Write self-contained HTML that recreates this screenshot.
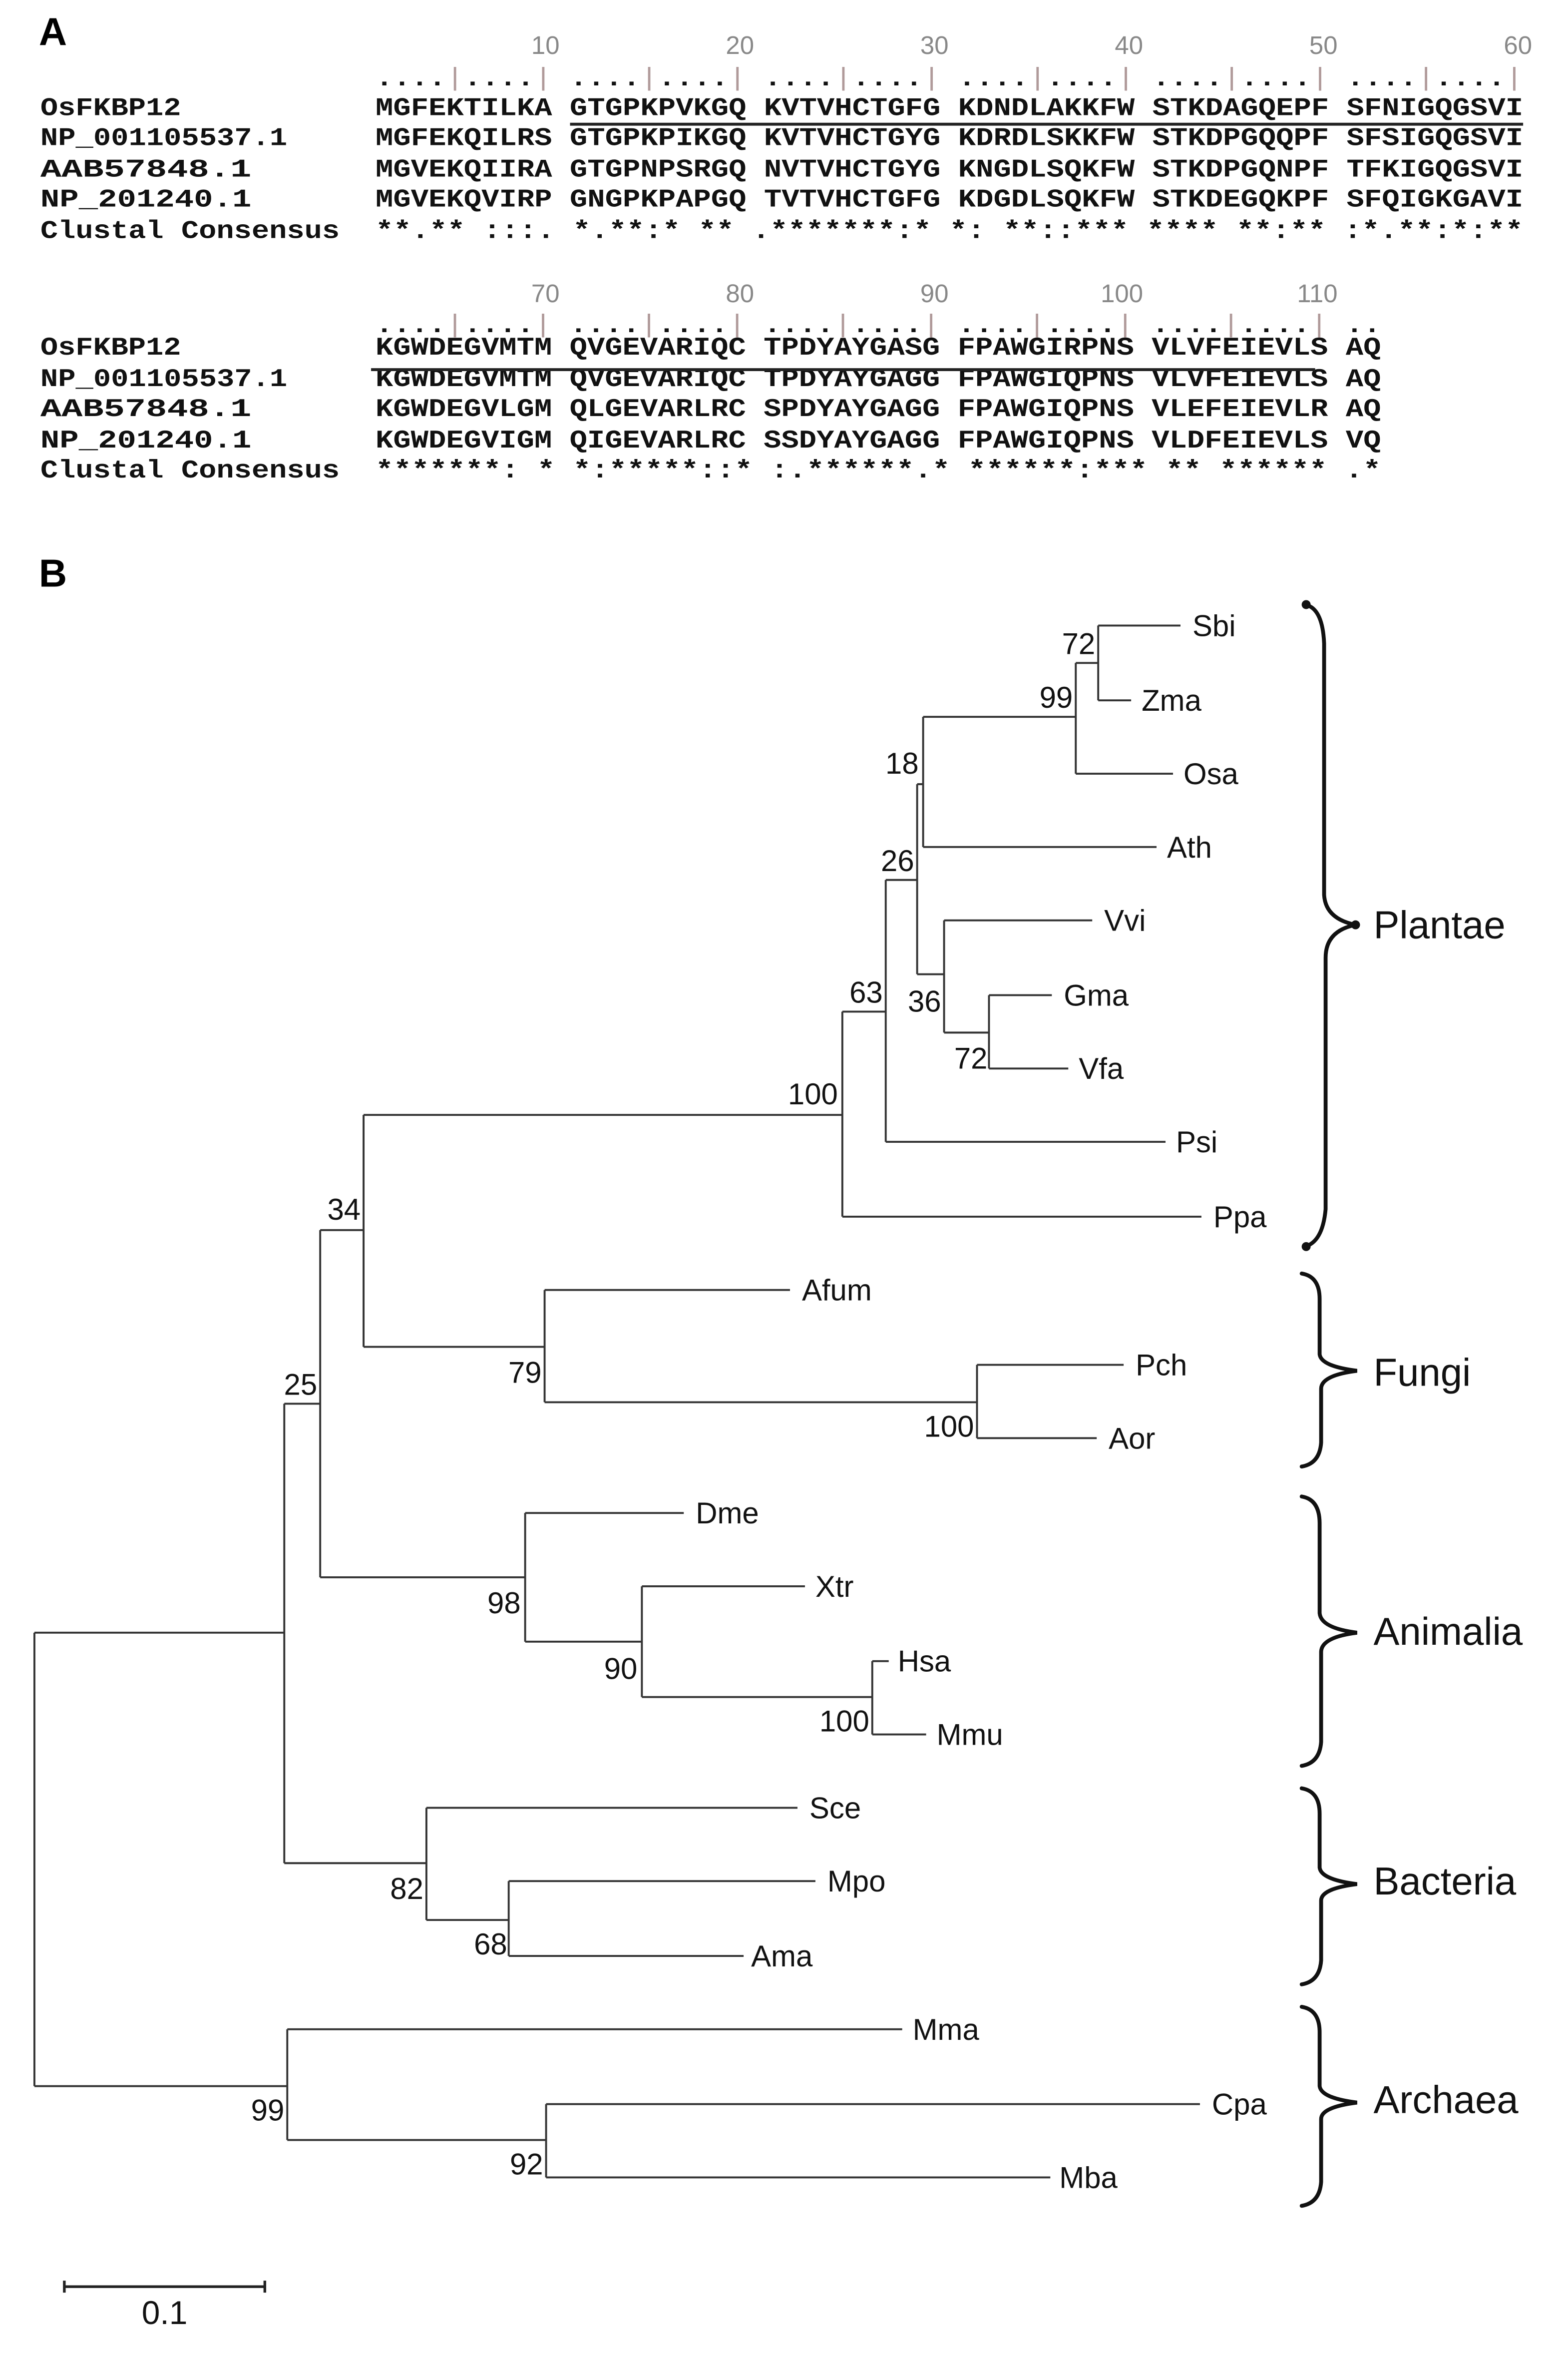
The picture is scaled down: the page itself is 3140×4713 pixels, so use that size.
<!DOCTYPE html>
<html><head><meta charset="utf-8"><style>
html,body{margin:0;padding:0;background:#fff}
svg{display:block}
.m{font-family:"Liberation Mono",monospace;font-weight:bold;font-size:17px;fill:#111}
.n{font-family:"Liberation Sans",sans-serif;font-size:17px;fill:#888}
.t{font-family:"Liberation Sans",sans-serif;font-size:20px;fill:#111}
.g{font-family:"Liberation Sans",sans-serif;font-size:26px;fill:#111}
.tk{fill:#b09a9a;font-weight:normal}
</style></head><body>
<svg xmlns="http://www.w3.org/2000/svg" width="3140" height="4713" viewBox="0 0 1048 1573">
<rect width="1048" height="1573" fill="#fff"/>
<text x="26" y="30" style="font-family:'Liberation Sans',sans-serif;font-weight:bold;font-size:26px">A</text>
<g class="n" text-anchor="end">
<text x="374" y="36">10</text><text x="504" y="36">20</text><text x="634" y="36">30</text><text x="764" y="36">40</text><text x="894" y="36">50</text><text x="1024" y="36">60</text>
<text x="374" y="202">70</text><text x="504" y="202">80</text><text x="634" y="202">90</text><text x="764" y="202">100</text><text x="894" y="202">110</text>
</g>
<g class="m" xml:space="preserve">
<text x="251" y="57" textLength="767" lengthAdjust="spacingAndGlyphs">....<tspan class="tk">|</tspan>....<tspan class="tk">|</tspan> ....<tspan class="tk">|</tspan>....<tspan class="tk">|</tspan> ....<tspan class="tk">|</tspan>....<tspan class="tk">|</tspan> ....<tspan class="tk">|</tspan>....<tspan class="tk">|</tspan> ....<tspan class="tk">|</tspan>....<tspan class="tk">|</tspan> ....<tspan class="tk">|</tspan>....<tspan class="tk">|</tspan></text>
<text x="27" y="77" textLength="94" lengthAdjust="spacingAndGlyphs">OsFKBP12</text>
<text x="27" y="97" textLength="165" lengthAdjust="spacingAndGlyphs">NP_001105537.1</text>
<text x="27" y="118" textLength="141" lengthAdjust="spacingAndGlyphs">AAB57848.1</text>
<text x="27" y="138" textLength="141" lengthAdjust="spacingAndGlyphs">NP_201240.1</text>
<text x="27" y="159" textLength="200" lengthAdjust="spacingAndGlyphs">Clustal Consensus</text>
<text x="251" y="77" textLength="767" lengthAdjust="spacingAndGlyphs">MGFEKTILKA GTGPKPVKGQ KVTVHCTGFG KDNDLAKKFW STKDAGQEPF SFNIGQGSVI</text>
<text x="251" y="97" textLength="767" lengthAdjust="spacingAndGlyphs">MGFEKQILRS GTGPKPIKGQ KVTVHCTGYG KDRDLSKKFW STKDPGQQPF SFSIGQGSVI</text>
<text x="251" y="118" textLength="767" lengthAdjust="spacingAndGlyphs">MGVEKQIIRA GTGPNPSRGQ NVTVHCTGYG KNGDLSQKFW STKDPGQNPF TFKIGQGSVI</text>
<text x="251" y="138" textLength="767" lengthAdjust="spacingAndGlyphs">MGVEKQVIRP GNGPKPAPGQ TVTVHCTGFG KDGDLSQKFW STKDEGQKPF SFQIGKGAVI</text>
<text x="251" y="159" textLength="767" lengthAdjust="spacingAndGlyphs">**.** :::. *.**:*  ** .*******:* *: **::*** **** **:** :*.**:*:**</text>

<text x="27" y="237" textLength="94" lengthAdjust="spacingAndGlyphs">OsFKBP12</text>
<text x="27" y="258" textLength="165" lengthAdjust="spacingAndGlyphs">NP_001105537.1</text>
<text x="27" y="278" textLength="141" lengthAdjust="spacingAndGlyphs">AAB57848.1</text>
<text x="27" y="299" textLength="141" lengthAdjust="spacingAndGlyphs">NP_201240.1</text>
<text x="27" y="319" textLength="200" lengthAdjust="spacingAndGlyphs">Clustal Consensus</text>
<text x="251" y="222" textLength="672" lengthAdjust="spacingAndGlyphs">....<tspan class="tk">|</tspan>....<tspan class="tk">|</tspan> ....<tspan class="tk">|</tspan>....<tspan class="tk">|</tspan> ....<tspan class="tk">|</tspan>....<tspan class="tk">|</tspan> ....<tspan class="tk">|</tspan>....<tspan class="tk">|</tspan> ....<tspan class="tk">|</tspan>....<tspan class="tk">|</tspan> ..</text>
<text x="251" y="237" textLength="672" lengthAdjust="spacingAndGlyphs">KGWDEGVMTM QVGEVARIQC TPDYAYGASG FPAWGIRPNS VLVFEIEVLS AQ</text>
<text x="251" y="258" textLength="672" lengthAdjust="spacingAndGlyphs">KGWDEGVMTM QVGEVARIQC TPDYAYGAGG FPAWGIQPNS VLVFEIEVLS AQ</text>
<text x="251" y="278" textLength="672" lengthAdjust="spacingAndGlyphs">KGWDEGVLGM QLGEVARLRC SPDYAYGAGG FPAWGIQPNS VLEFEIEVLR AQ</text>
<text x="251" y="299" textLength="672" lengthAdjust="spacingAndGlyphs">KGWDEGVIGM QIGEVARLRC SSDYAYGAGG FPAWGIQPNS VLDFEIEVLS VQ</text>
<text x="251" y="319" textLength="672" lengthAdjust="spacingAndGlyphs">*******: * *:*****::* :.******.* ******:*** ** ******  .*</text>
</g>
<line x1="381" y1="83" x2="1018" y2="83" stroke="#222" stroke-width="2"/>
<line x1="248" y1="247" x2="879" y2="247" stroke="#222" stroke-width="2"/>

<text x="26" y="392" style="font-family:'Liberation Sans',sans-serif;font-weight:bold;font-size:26px">B</text>

<path fill="none" stroke="#333" stroke-width="1.3" d="
M23 1091V1394 M23 1091H190 M23 1394H192
M190 938V1245 M190 938H214 M190 1245H285
M214 822V1054 M214 822H243 M214 1054H351
M243 745V900 M243 745H563 M243 900H364
M563 676V813 M563 676H592 M563 813H803
M592 588V763 M592 588H613 M592 763H779
M613 524V651 M613 524H617 M613 651H631
M617 479V566 M617 479H719 M617 566H773
M719 443V517 M719 443H734 M719 517H784
M734 418V468 M734 418H789 M734 468H756
M631 615V690 M631 615H730 M631 690H661
M661 665V714 M661 665H703 M661 714H714
M364 862V937 M364 862H528 M364 937H653
M653 912V961 M653 912H751 M653 961H733
M351 1011V1097 M351 1011H457 M351 1097H429
M429 1060V1134 M429 1060H538 M429 1134H583
M583 1110V1159 M583 1110H594 M583 1159H619
M285 1208V1283 M285 1208H533 M285 1283H340
M340 1257V1307 M340 1257H545 M340 1307H497
M192 1356V1430 M192 1356H603 M192 1430H365
M365 1406V1455 M365 1406H802 M365 1455H702
"/>
<g class="t">
<text x="797" y="425">Sbi</text><text x="763" y="475">Zma</text><text x="791" y="524">Osa</text>
<text x="780" y="573">Ath</text><text x="738" y="622">Vvi</text><text x="711" y="672">Gma</text>
<text x="721" y="721">Vfa</text><text x="786" y="770">Psi</text><text x="811" y="820">Ppa</text>
<text x="536" y="869">Afum</text><text x="759" y="919">Pch</text><text x="741" y="968">Aor</text>
<text x="465" y="1018">Dme</text><text x="545" y="1067">Xtr</text><text x="600" y="1117">Hsa</text>
<text x="626" y="1166">Mmu</text><text x="541" y="1215">Sce</text><text x="553" y="1264">Mpo</text>
<text x="502" y="1314">Ama</text><text x="610" y="1363">Mma</text><text x="810" y="1413">Cpa</text>
<text x="708" y="1462">Mba</text>
</g>
<g class="t" text-anchor="end">
<text x="732" y="437">72</text><text x="717" y="473">99</text><text x="614" y="517">18</text>
<text x="611" y="582">26</text><text x="590" y="670">63</text><text x="629" y="676">36</text>
<text x="660" y="714">72</text><text x="560" y="738">100</text><text x="241" y="815">34</text>
<text x="212" y="932">25</text><text x="362" y="924">79</text><text x="651" y="960">100</text>
<text x="348" y="1078">98</text><text x="426" y="1122">90</text><text x="581" y="1157">100</text>
<text x="283" y="1269">82</text><text x="339" y="1306">68</text><text x="190" y="1417">99</text>
<text x="363" y="1453">92</text>
</g>
<g fill="none" stroke="#111" stroke-width="2.6" stroke-linecap="round">
<path d="M872 404 Q884 406 885 430 L885 598 Q886 614 906 618 Q886 622 886 640 L886 808 Q884 830 872 833"/>
<path d="M870 851 Q882 853 882 868 L882 905 Q883 913 907 916 Q883 919 883 928 L883 964 Q882 978 870 980"/>
<path d="M870 1000 Q882 1002 882 1018 L882 1078 Q883 1088 907 1091 Q883 1094 883 1104 L883 1164 Q882 1178 870 1180"/>
<path d="M870 1195 Q882 1197 882 1212 L882 1248 Q883 1256 907 1259 Q883 1262 883 1270 L883 1310 Q882 1324 870 1326"/>
<path d="M870 1341 Q882 1343 882 1358 L882 1394 Q883 1402 907 1405 Q883 1408 883 1416 L883 1458 Q882 1472 870 1474"/>
</g>
<circle cx="873" cy="404" r="3" fill="#111"/><circle cx="873" cy="833" r="3" fill="#111"/><circle cx="906" cy="618" r="3" fill="#111"/>
<g class="g">
<text x="918" y="627">Plantae</text><text x="918" y="926">Fungi</text><text x="918" y="1099">Animalia</text>
<text x="918" y="1266">Bacteria</text><text x="918" y="1412">Archaea</text>
</g>
<path d="M43 1528H177 M43 1524V1532 M177 1524V1532" stroke="#222" stroke-width="1.8" fill="none"/>
<text x="110" y="1553" text-anchor="middle" class="t" style="font-size:22px">0.1</text>
</svg>
</body></html>
